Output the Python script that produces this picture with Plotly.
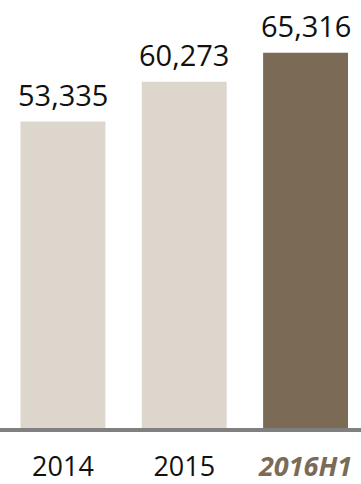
import plotly.graph_objects as go

# Yearly totals
categories = ["2014", "2015", "2016H1"]
values = [53335, 60273, 65316]
bar_colors = ["#ddd6cd", "#ddd6cd", "#7b6a56"]
tick_labels = [
    "2014",
    "2015",
    "<span style='color:#7b6a56'><b><i>2016H1</i></b></span>",
]

FONT = "Open Sans, Noto Sans, sans-serif"

fig = go.Figure(
    go.Bar(
        x=categories,
        y=values,
        marker=dict(color=bar_colors, line=dict(width=0)),
        hoverinfo="skip",
    )
)

# value labels above each bar (category positions by index)
for i, val in enumerate(values):
    fig.add_annotation(
        x=i,
        y=val,
        xref="x",
        yref="y",
        text=f"{val:,}",
        showarrow=False,
        yanchor="bottom",
        yshift=6,
        font=dict(family=FONT, size=29, color="#111111"),
    )

fig.update_layout(
    width=361,
    height=484,
    margin=dict(l=0, r=0, t=0, b=56),
    paper_bgcolor="white",
    plot_bgcolor="white",
    bargap=0.3,
    showlegend=False,
    xaxis=dict(
        type="category",
        range=[-0.519, 2.457],
        tickmode="array",
        tickvals=categories,
        ticktext=tick_labels,
        tickfont=dict(family=FONT, size=27, color="#111111"),
        showline=True,
        linewidth=4,
        linecolor="#808080",
        showgrid=False,
        ticks="",
        ticklabelstandoff=12,
        automargin=False,
        fixedrange=True,
    ),
    yaxis=dict(
        range=[0, 74500],
        visible=False,
        showgrid=False,
        zeroline=False,
        automargin=False,
        fixedrange=True,
    ),
)

fig.write_html("out.html")
